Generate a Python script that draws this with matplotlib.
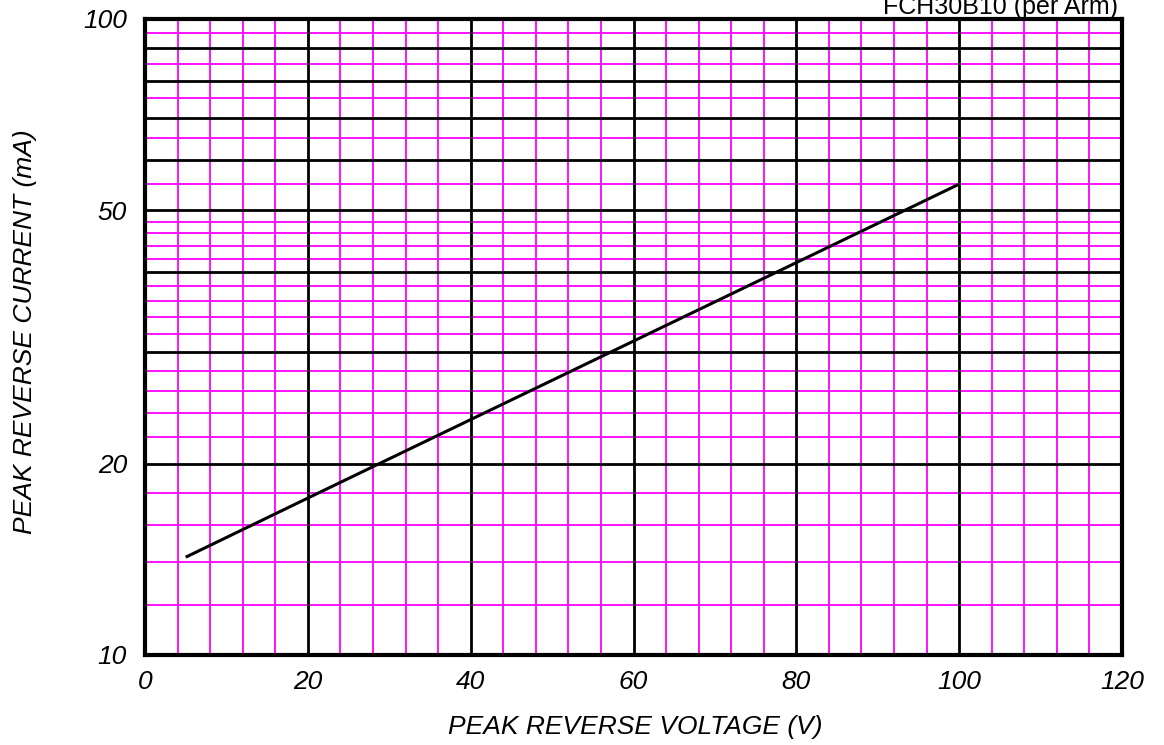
import matplotlib
matplotlib.use("Agg")
import matplotlib.pyplot as plt
from matplotlib.ticker import FixedLocator, NullFormatter, FixedFormatter

# Data
voltage = [5, 20, 100]
current = [14.25, 17.65, 55.0]

x_major = [0, 20, 40, 60, 80, 100, 120]
x_minor = [v for v in range(0, 121, 4) if v % 20 != 0]
y_major = [10, 20, 30, 40, 50, 60, 70, 80, 90, 100]
y_minor = [12, 14, 16, 18, 22, 24, 26, 28, 32, 34, 36, 38, 42, 44, 46, 48, 55, 65, 75, 85, 95]
y_labels_at = [10, 20, 50, 100]

plt.rcParams['font.family'] = ['Liberation Sans', 'DejaVu Sans']

W, H = 1164, 745
fig = plt.figure(figsize=(W / 100, H / 100), dpi=100)
ax = fig.add_axes([145 / W, 1 - 655 / H, (1122 - 145) / W, (655 - 19) / H])

ax.set_yscale('log')
ax.set_xlim(0, 120)
ax.set_ylim(10, 100)

# grids
for v in x_minor:
    ax.axvline(v, color='#ff00ff', lw=1.3, zorder=1)
for v in y_minor:
    ax.axhline(v, color='#ff00ff', lw=1.3, zorder=1)
for v in x_major[1:-1]:
    ax.axvline(v, color='black', lw=2.0, zorder=2)
for v in y_major[1:-1]:
    ax.axhline(v, color='black', lw=2.0, zorder=2)

ax.plot(voltage, current, color='black', lw=2.2, zorder=3, solid_capstyle='butt')

ax.xaxis.set_major_locator(FixedLocator(x_major))
ax.xaxis.set_minor_locator(FixedLocator([]))
ax.yaxis.set_major_locator(FixedLocator(y_labels_at))
ax.yaxis.set_major_formatter(FixedFormatter([str(v) for v in y_labels_at]))
ax.yaxis.set_minor_locator(FixedLocator([]))
ax.yaxis.set_minor_formatter(NullFormatter())
ax.tick_params(axis='both', which='both', length=0, labelsize=19)
ax.tick_params(axis='x', pad=11)
ax.tick_params(axis='y', pad=13)
for lab in ax.get_xticklabels() + ax.get_yticklabels():
    lab.set_fontstyle('italic')

for s in ax.spines.values():
    s.set_linewidth(3)
    s.set_zorder(4)

fig.text(635 / W, 1 - 727 / H, 'PEAK REVERSE VOLTAGE (V)', ha='center', va='center',
         fontsize=19, fontstyle='italic')
fig.text(25 / W, 1 - 332 / H, 'PEAK REVERSE CURRENT (mA)', ha='center', va='center',
         fontsize=19, fontstyle='italic', rotation=90)
fig.text(1118 / W, 1 - 14 / H, 'FCH30B10 (per Arm)', ha='right', va='baseline', fontsize=18)

fig.savefig('out.png', dpi=100)
